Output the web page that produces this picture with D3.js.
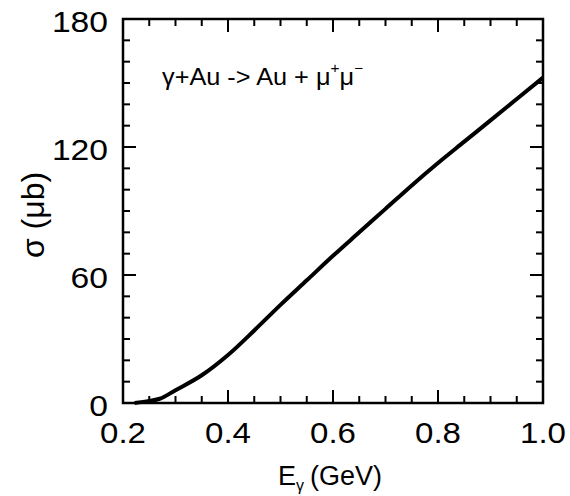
<!DOCTYPE html>
<html>
<head>
<meta charset="utf-8">
<script src="https://cdn.jsdelivr.net/npm/d3@7"></script>
<style>
  body { margin: 0; background: #fff; }
  svg text { font-family: "Liberation Sans", Arial, Helvetica, sans-serif; fill: #000; }
</style>
</head>
<body>
<svg width="570" height="496"></svg>
<script>
// photon energy (GeV) and cross section (microbarn)
var energy = [0.222, 0.25, 0.27, 0.30, 0.35, 0.40, 0.45, 0.50, 0.55, 0.60, 0.65, 0.70, 0.75, 0.80, 0.85, 0.90, 0.95, 1.00];
var sigma  = [0,     1,    2,    6,    13,   22.5, 34,   46,   57.5, 69,   80,   91,   102,  112.5,122.5,132.5,142.5,152.5];

var xTicks = [0.2, 0.4, 0.6, 0.8, 1.0];
var yTicks = [0, 60, 120, 180];

var svg = d3.select('svg');
var m = { left: 123, top: 19, right: 543, bottom: 403 };

var x = d3.scaleLinear().domain([0.2, 1.0]).range([m.left, m.right]);
var y = d3.scaleLinear().domain([0, 180]).range([m.bottom, m.top]);

var xMinor = d3.range(0.2, 1.0001, 0.05);
var yMinor = d3.range(0, 180.001, 10);

var g = svg.append('g');

// ticks, all inward, on the four sides
function isMajorX(v){ return xTicks.some(function(t){ return Math.abs(t - v) < 1e-6; }); }
function isMajorY(v){ return yTicks.some(function(t){ return Math.abs(t - v) < 1e-6; }); }

xMinor.forEach(function(v){
	var len = isMajorX(v) ? 13 : 7;
	g.append('line').attr('x1', x(v)).attr('x2', x(v)).attr('y1', m.bottom).attr('y2', m.bottom - len);
	g.append('line').attr('x1', x(v)).attr('x2', x(v)).attr('y1', m.top).attr('y2', m.top + len);
});
yMinor.forEach(function(v){
	var len = isMajorY(v) ? 13 : 7;
	g.append('line').attr('x1', m.left).attr('x2', m.left + len).attr('y1', y(v)).attr('y2', y(v));
	g.append('line').attr('x1', m.right).attr('x2', m.right - len).attr('y1', y(v)).attr('y2', y(v));
});
g.selectAll('line').attr('stroke', '#000').attr('stroke-width', 2);

// frame
g.append('rect')
	.attr('x', m.left).attr('y', m.top)
	.attr('width', m.right - m.left).attr('height', m.bottom - m.top)
	.attr('fill', 'none').attr('stroke', '#000').attr('stroke-width', 2.5);

// tick labels (the original lettering is a bit wide)
g.selectAll('text.xl').data(xTicks).enter().append('text')
	.attr('class', 'xl')
	.attr('transform', function(d){ return 'translate(' + x(d) + ',443) scale(1.14,1)'; })
	.attr('text-anchor', 'middle')
	.attr('font-size', 29)
	.text(function(d){ return d.toFixed(1); });

g.selectAll('text.yl').data(yTicks).enter().append('text')
	.attr('class', 'yl')
	.attr('transform', function(d){ return 'translate(108,' + (y(d) + 13) + ') scale(1.16,1)'; })
	.attr('text-anchor', 'end')
	.attr('font-size', 29)
	.text(function(d){ return d; });

// curve
var pts = energy.map(function(e, i){ return [e, sigma[i]]; });
g.append('path')
	.datum(pts)
	.attr('fill', 'none')
	.attr('stroke', '#000')
	.attr('stroke-width', 4)
	.attr('stroke-linejoin', 'round')
	.attr('d', d3.line().curve(d3.curveMonotoneX).x(function(d){ return x(d[0]); }).y(function(d){ return y(d[1]); }));

// axis titles
var xt = g.append('text').attr('x', 278).attr('y', 485).attr('font-size', 27);
xt.append('tspan').text('E');
xt.append('tspan').attr('font-size', 16).attr('dy', 6).text('γ');
xt.append('tspan').attr('dy', -6).attr('dx', 6).text('(GeV)');

g.append('text')
	.attr('transform', 'translate(44,215) rotate(-90)')
	.attr('text-anchor', 'middle')
	.attr('font-size', 32)
	.text('σ (μb)');

// reaction label
var rt = g.append('text').attr('transform', 'translate(162,85) scale(1.1,1)').attr('font-size', 23);
rt.append('tspan').text('γ+Au -> Au + μ');
rt.append('tspan').attr('font-size', 14).attr('dy', -12).text('+');
rt.append('tspan').attr('dy', 12).text('μ');
rt.append('tspan').attr('font-size', 14).attr('dy', -12).text('−');
</script>
</body>
</html>
